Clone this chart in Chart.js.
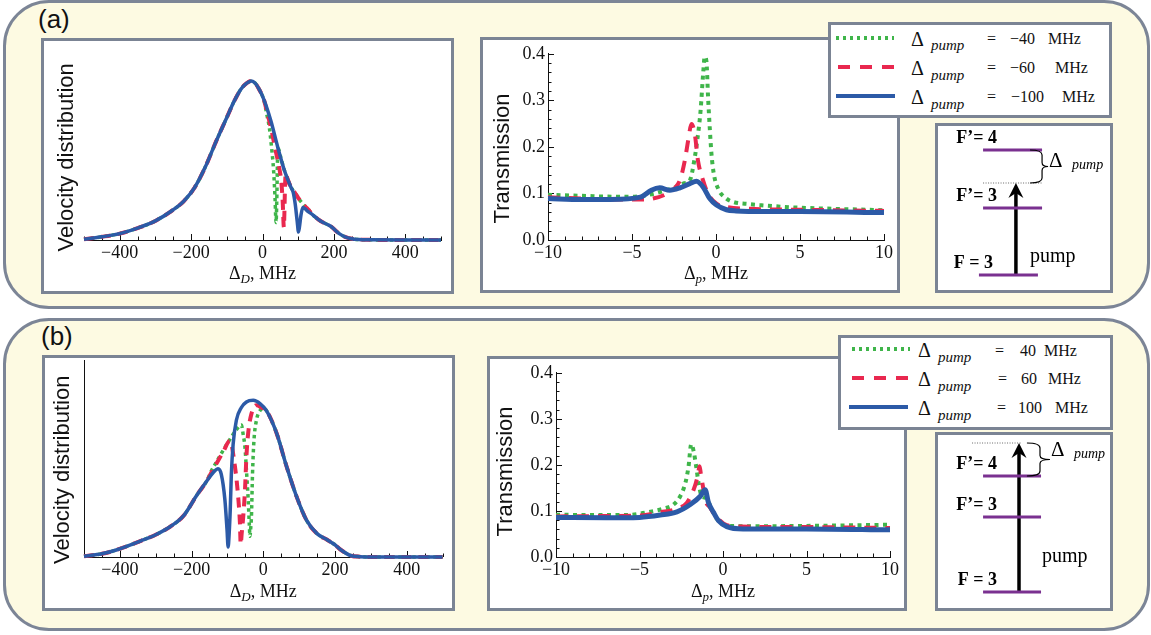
<!DOCTYPE html>
<html>
<head>
<meta charset="utf-8">
<title>Velocity distribution and transmission</title>
<script src="https://cdn.jsdelivr.net/npm/chart.js@4.4.1/dist/chart.umd.min.js"></script>
<style>
  body { margin: 0; background: #fff; }
  #fig { position: relative; width: 1151px; height: 635px; overflow: hidden; }
  .panel { position: absolute; box-sizing: border-box; border: 3px solid #7c8596; border-radius: 46px; background: #fdfae2; }
  .box { position: absolute; box-sizing: border-box; border: 3px solid #7b8494; background: #fff; }
  .box canvas { position: absolute; left: 0; top: 0; }
  .tag { position: absolute; font: 26px/26px "Liberation Sans", Arial, sans-serif; color: #111; }
  .legend span { position: absolute; white-space: pre; font-family: "Liberation Serif", serif; color: #111; }
  .legend .sample { position: absolute; height: 4px; }
</style>
</head>
<body>
<div id="fig">
  <div class="panel" style="left:3px;top:0;width:1147px;height:309px"></div>
  <div class="panel" style="left:3px;top:318px;width:1147px;height:313px"></div>
  <div class="tag" style="left:38px;top:6px">(a)</div>
  <div class="tag" style="left:41px;top:323px">(b)</div>

  <div class="box" style="left:41px;top:38px;width:413px;height:256px"><canvas id="velA" width="407" height="250"></canvas></div>
  <div class="box" style="left:480px;top:37px;width:420px;height:256px"><canvas id="trA" width="414" height="250"></canvas></div>
  <div class="box" style="left:935px;top:123px;width:178px;height:170px"><canvas id="lvA" width="172" height="164"></canvas></div>
  <div class="box legend" id="legA" style="left:828px;top:22px;width:284px;height:96px"></div>

  <div class="box" style="left:42px;top:355px;width:413px;height:256px"><canvas id="velB" width="407" height="250"></canvas></div>
  <div class="box" style="left:487px;top:356px;width:420px;height:255px"><canvas id="trB" width="414" height="249"></canvas></div>
  <div class="box" style="left:935px;top:432px;width:178px;height:179px"><canvas id="lvB" width="172" height="173"></canvas></div>
  <div class="box legend" id="legB" style="left:838px;top:335px;width:275px;height:95px"></div>
</div>

<script>
// ---- tick labels ----
const velTicks = [-400, -200, 0, 200, 400];
const trXTicks = [-10, -5, 0, 5, 10];
const trYTicks = [0, 0.1, 0.2, 0.3, 0.4];

// ---- legend values (pump detuning, MHz) ----
const pumpDetuningA = [-40, -60, -100];
const pumpDetuningB = [40, 60, 100];

// ---- (a) velocity distribution, Doppler detuning in MHz ----
const velAWingX = [-500, -450, -400, -350, -300, -250, -220, -190, -160, -130, -100, -80, -60, -45, -31, -20, -10, 0];
const velAWing  = [0.005, 0.02, 0.04, 0.075, 0.12, 0.19, 0.245, 0.33, 0.46, 0.62, 0.77, 0.87, 0.95, 0.985, 1.0, 0.985, 0.95, 0.905];
const velATailX = [140, 156, 170, 184, 195, 203, 215, 231, 250, 270, 300, 400, 500];
const velATail  = [0.16, 0.13, 0.11, 0.095, 0.08, 0.063, 0.04, 0.02, 0.008, 0.003, 0.001, 0, 0];
const velAGreenX = [5, 12, 19, 25, 31, 35, 38, 40, 42, 44, 50, 61, 70, 80, 90, 100, 110, 120, 127];
const velAGreen  = [0.87, 0.79, 0.71, 0.59, 0.44, 0.27, 0.11, 0.25, 0.50, 0.575, 0.53, 0.44, 0.385, 0.33, 0.30, 0.265, 0.235, 0.21, 0.195];
const velARedX = [5, 14, 20, 28, 35, 42, 48, 52, 55, 57, 59, 60, 61, 63, 65, 70, 80, 90, 100, 110, 120, 127];
const velARed  = [0.875, 0.79, 0.74, 0.66, 0.58, 0.51, 0.44, 0.38, 0.30, 0.22, 0.10, 0.08, 0.14, 0.33, 0.42, 0.385, 0.33, 0.30, 0.265, 0.235, 0.21, 0.195];
const velABlueX = [10, 24, 42, 61, 80, 86, 92, 97, 101, 104, 108, 113, 120, 127];
const velABlue  = [0.845, 0.745, 0.59, 0.44, 0.33, 0.30, 0.22, 0.12, 0.05, 0.09, 0.16, 0.205, 0.195, 0.18];

// ---- (b) velocity distribution ----
const velBWingX = [-500, -450, -410, -335, -300, -260, -222, -185, -157];
const velBWing  = [0.005, 0.02, 0.044, 0.107, 0.14, 0.19, 0.26, 0.39, 0.48];
const velBTailX = [9, 37, 65, 93, 121, 150, 179, 198, 217, 245, 270, 300, 400, 500];
const velBTail  = [0.92, 0.78, 0.57, 0.38, 0.23, 0.147, 0.107, 0.08, 0.044, 0.008, 0.002, 0, 0, 0];
const velBGreenX = [-145, -130, -112, -93, -75, -61, -56, -51, -47, -42, -39, -37, -35, -33, -30, -26, -19, -9, 0];
const velBGreen  = [0.54, 0.60, 0.67, 0.74, 0.80, 0.83, 0.77, 0.69, 0.55, 0.36, 0.21, 0.13, 0.18, 0.25, 0.52, 0.73, 0.86, 0.92, 0.935];
const velBRedX = [-145, -130, -112, -93, -79, -70, -65, -63, -60, -56, -51, -47, -42, -33, -19, -5];
const velBRed  = [0.53, 0.59, 0.66, 0.73, 0.57, 0.38, 0.21, 0.08, 0.15, 0.25, 0.42, 0.63, 0.78, 0.90, 0.955, 0.94];
const velBBlueX = [-140, -126, -117, -107, -101, -98, -95, -92, -89, -84, -75, -61, -47, -28, -9];
const velBBlue  = [0.53, 0.555, 0.52, 0.36, 0.17, 0.063, 0.15, 0.30, 0.52, 0.71, 0.86, 0.94, 0.975, 0.985, 0.965];

// ---- (a) transmission vs probe detuning, MHz ----
const trAGreenX = [-10, -8, -6, -5, -4, -3.35, -2.35, -1.9, -1.56, -1.26, -1.12, -0.92, -0.77, -0.67, -0.57, -0.47, -0.37, -0.27, -0.13, 0.13, 0.62, 1, 2, 2.6, 4.6, 7, 10];
const trAGreen  = [0.097, 0.095, 0.093, 0.093, 0.097, 0.103, 0.114, 0.122, 0.128, 0.178, 0.213, 0.277, 0.355, 0.394, 0.384, 0.305, 0.24, 0.185, 0.142, 0.11, 0.089, 0.082, 0.077, 0.075, 0.07, 0.067, 0.064];
const trARedX = [-10, -8, -6, -4.5, -3.75, -2.95, -2.5, -2.15, -1.86, -1.66, -1.46, -1.26, -1.07, -0.77, -0.47, 0.03, 0.62, 2, 5, 10];
const trARed  = [0.092, 0.089, 0.087, 0.087, 0.089, 0.099, 0.11, 0.128, 0.17, 0.213, 0.249, 0.227, 0.17, 0.128, 0.099, 0.078, 0.071, 0.067, 0.065, 0.0625];
const trABlueX = [-10, -8, -6.3, -4.5, -3.85, -3.35, -2.75, -2.15, -1.56, -1.16, -0.77, -0.37, 0.03, 0.62, 1.2, 3, 5, 10];
const trABlue  = [0.089, 0.087, 0.087, 0.092, 0.107, 0.112, 0.107, 0.112, 0.121, 0.126, 0.114, 0.089, 0.075, 0.065, 0.0625, 0.061, 0.061, 0.059];

// ---- (b) transmission ----
const trBGreenX = [-10, -8, -5.75, -4.56, -3.56, -2.96, -2.56, -2.26, -2.07, -1.9, -1.76, -1.6, -1.46, -1.27, -1.0, -0.7, -0.37, 0.23, 1, 3, 6, 10];
const trBGreen  = [0.092, 0.091, 0.091, 0.097, 0.105, 0.114, 0.132, 0.16, 0.195, 0.245, 0.23, 0.195, 0.16, 0.132, 0.128, 0.105, 0.083, 0.068, 0.067, 0.067, 0.068, 0.07];
const trBRedX = [-10, -7, -5, -3.76, -2.76, -2.16, -1.76, -1.53, -1.4, -1.33, -1.2, -1.07, -0.77, -0.37, 0.23, 1, 5, 10];
const trBRed  = [0.088, 0.089, 0.09, 0.097, 0.105, 0.118, 0.146, 0.174, 0.197, 0.181, 0.153, 0.125, 0.107, 0.086, 0.069, 0.066, 0.065, 0.063];
const trBBlueX = [-10, -7, -5, -3.76, -2.76, -1.96, -1.36, -1.07, -0.87, -0.57, -0.27, 0.23, 1.2, 3, 5, 10];
const trBBlue  = [0.086, 0.085, 0.086, 0.091, 0.098, 0.114, 0.132, 0.146, 0.118, 0.097, 0.079, 0.066, 0.061, 0.061, 0.061, 0.059];

// ---- level schemes (arbitrary energy units, F = 3 at 0) ----
const levelNames = ['F = 3', 'F\u2019= 3', 'F\u2019= 4'];
const levelEnergyA = [0, 67, 125];
const pumpTopA = 92;
const levelEnergyB = [0, 75, 116];
const pumpTopB = 149;

const GREEN = '#3fb54a', RED = '#e9284f', BLUE = '#2c5aa7', PURPLE = '#7a3190';
const SERIF = '"Liberation Serif", "Times New Roman", serif';
const SANS = '"Liberation Sans", Arial, sans-serif';
const minus = v => String(v).replace('-', '\u2212');

// inward tick marks + axis titles
const axisDecor = {
  id: 'axisDecor',
  beforeDatasetsDraw(chart, args, o) {
    const { ctx, chartArea: a, scales: { x, y } } = chart;
    ctx.save();
    ctx.strokeStyle = '#111';
    ctx.lineWidth = 1;
    const marks = (scale, minor, majors, horiz) => {
      const n = Math.round((scale.max - scale.min) / minor);
      for (let i = 0; i <= n; i++) {
        const v = scale.min + i * minor;
        const big = majors.some(m => Math.abs(m - v) < minor / 10);
        const len = big ? 6 : 3.5;
        const p = Math.round(scale.getPixelForValue(v)) + 0.5;
        ctx.beginPath();
        if (horiz) { ctx.moveTo(p, a.bottom); ctx.lineTo(p, a.bottom - len); }
        else { ctx.moveTo(a.left, p); ctx.lineTo(a.left + len, p); }
        ctx.stroke();
      }
    };
    if (o.xMinor) marks(x, o.xMinor, o.xMajor, true);
    if (o.yMinor) marks(y, o.yMinor, o.yMajor, false);

    ctx.fillStyle = '#111';
    // y title, rotated
    ctx.save();
    ctx.font = '22px ' + SANS;
    ctx.textAlign = 'center';
    ctx.textBaseline = 'middle';
    ctx.translate(a.left + o.yTitle.dx, (a.top + a.bottom) / 2 + o.yTitle.dy);
    ctx.rotate(-Math.PI / 2);
    ctx.fillText(o.yTitle.text, 0, 0);
    ctx.restore();
    // x title with italic subscript
    const parts = [
      { t: '\u0394', f: '18px ' + SERIF, dy: 0 },
      { t: o.xSub, f: 'italic 13px ' + SERIF, dy: 4 },
      { t: ', MHz', f: '18px ' + SERIF, dy: 0 }
    ];
    let w = 0;
    parts.forEach(p => { ctx.font = p.f; p.w = ctx.measureText(p.t).width; w += p.w; });
    let cx = (a.left + a.right) / 2 - w / 2;
    ctx.textAlign = 'left';
    ctx.textBaseline = 'alphabetic';
    parts.forEach(p => { ctx.font = p.f; ctx.fillText(p.t, cx, a.bottom + o.xTitleDy + p.dy); cx += p.w; });
    ctx.restore();
  }
};

function pts(xs, ys) { return xs.map((x, i) => ({ x, y: ys[i] })); }

function curveChart(id, series, opt) {
  const datasets = series.map(s => ({
    data: pts(s.x, s.y),
    borderColor: s.color,
    borderWidth: s.width,
    borderDash: s.dash || [],
    borderCapStyle: 'butt',
    pointRadius: 0,
    cubicInterpolationMode: 'monotone',
    fill: false,
    clip: false,
    order: s.order
  }));
  return new Chart(document.getElementById(id), {
    type: 'line',
    data: { datasets },
    plugins: [axisDecor],
    options: {
      responsive: false,
      animation: false,
      events: [],
      layout: { padding: { left: 0, top: opt.pad[0], right: opt.pad[1], bottom: 0 } },
      plugins: { legend: { display: false }, tooltip: { enabled: false }, axisDecor: opt.decor },
      scales: {
        x: {
          type: 'linear', min: opt.xRange[0], max: opt.xRange[1],
          afterFit: s => { s.height = opt.xBand; },
          afterBuildTicks: s => { s.ticks = opt.xTicks.map(value => ({ value })); },
          grid: { display: false, drawTicks: false },
          border: { display: true, color: '#111', width: 1 },
          ticks: { color: '#111', font: { family: SERIF, size: 18 }, padding: 2, maxRotation: 0, autoSkip: false, callback: v => minus(v) }
        },
        y: {
          type: 'linear', min: opt.yRange[0], max: opt.yRange[1],
          afterFit: s => { s.width = opt.yBand; },
          afterBuildTicks: s => { if (opt.yTicks) s.ticks = opt.yTicks.map(value => ({ value })); },
          grid: { display: false, drawTicks: false },
          border: { display: opt.yBorder, color: '#111', width: 1 },
          ticks: { display: !!opt.yTicks, color: '#111', font: { family: SERIF, size: 18 }, padding: 3, autoSkip: false, callback: v => v.toFixed(1) }
        }
      }
    }
  });
}

function velSeries(wingX, wing, tailX, tail, gx, g, rx, r, bx, b) {
  return [
    { x: wingX.concat(gx, tailX), y: wing.concat(g, tail), color: GREEN, width: 3.5, dash: [3.5, 3.5], order: 2 },
    { x: wingX.concat(rx, tailX), y: wing.concat(r, tail), color: RED, width: 4, dash: [10, 7], order: 1 },
    { x: wingX.concat(bx, tailX), y: wing.concat(b, tail), color: BLUE, width: 3.5, order: 0 }
  ];
}
function trSeries(gx, g, rx, r, bx, b) {
  return [
    { x: gx, y: g, color: GREEN, width: 4, dash: [4, 4.5], order: 2 },
    { x: rx, y: r, color: RED, width: 4, dash: [12, 9], order: 1 },
    { x: bx, y: b, color: BLUE, width: 5, order: 0 }
  ];
}

const velDecor = (dx, dy, tdy) => ({ xMinor: 50, xMajor: velTicks, yTitle: { text: 'Velocity distribution', dx, dy }, xSub: 'D', xTitleDy: tdy });
const trDecor = (dx, dy, tdy) => ({ xMinor: 1, xMajor: trXTicks, yMinor: 0.02, yMajor: trYTicks, yTitle: { text: 'Transmission', dx, dy }, xSub: 'p', xTitleDy: tdy });

curveChart('velA', velSeries(velAWingX, velAWing, velATailX, velATail, velAGreenX, velAGreen, velARedX, velARed, velABlueX, velABlue), {
  xRange: [-500, 500], yRange: [0, 1.235], xTicks: velTicks, yBorder: false,
  pad: [2.6, 10], xBand: 51, yBand: 40, decor: velDecor(-17, 15.6, 39)
});
curveChart('velB', velSeries(velBWingX, velBWing, velBTailX, velBTail, velBGreenX, velBGreen, velBRedX, velBRed, velBBlueX, velBBlue), {
  xRange: [-500, 500], yRange: [0, 1.235], xTicks: velTicks, yBorder: true,
  pad: [2.6, 9.5], xBand: 51, yBand: 39, decor: velDecor(-21, 11, 40)
});
curveChart('trA', trSeries(trAGreenX, trAGreen, trARedX, trARed, trABlueX, trABlue), {
  xRange: [-10, 10], yRange: [0, 0.4], xTicks: trXTicks, yTicks: trYTicks, yBorder: true,
  pad: [12, 13], xBand: 50, yBand: 65, decor: trDecor(-45.5, 11.5, 39)
});
curveChart('trB', trSeries(trBGreenX, trBGreen, trBRedX, trBRed, trBBlueX, trBBlue), {
  xRange: [-10, 10], yRange: [0, 0.4], xTicks: trXTicks, yTicks: trYTicks, yBorder: true,
  pad: [9, 14], xBand: 51, yBand: 66, decor: trDecor(-50, 6.5, 40)
});

// ---- energy level schemes ----
const levelDecor = {
  id: 'levelDecor',
  afterDatasetsDraw(chart, args, o) {
    const { ctx, scales: { x, y } } = chart;
    ctx.save();
    ctx.fillStyle = '#000';
    ctx.strokeStyle = '#000';
    ctx.textBaseline = 'alphabetic';
    ctx.font = 'bold 18px ' + SERIF;
    ctx.textAlign = 'right';
    levelNames.forEach((n, i) => {
      ctx.fillText(n, x.getPixelForValue(o.levelX[i][0]) + 14, y.getPixelForValue(o.energies[i]) - 7);
    });
    // arrow head
    const ax = x.getPixelForValue(o.arrowX), ay = y.getPixelForValue(o.pumpTop);
    ctx.beginPath();
    ctx.moveTo(ax, ay);
    ctx.lineTo(ax + 7.5, ay + 15);
    ctx.lineTo(ax, ay + 10);
    ctx.lineTo(ax - 7.5, ay + 15);
    ctx.closePath();
    ctx.fill();
    // brace between F'=4 and the pump frequency
    const y1 = Math.min(ay, y.getPixelForValue(o.energies[2]));
    const y2 = Math.max(ay, y.getPixelForValue(o.energies[2]));
    const ym = (y1 + y2) / 2;
    const x0 = x.getPixelForValue(o.brace[0]), x1 = x.getPixelForValue(o.brace[1]), xt = x.getPixelForValue(o.brace[2]);
    ctx.lineWidth = 1.2;
    ctx.beginPath();
    ctx.moveTo(x0, y1);
    ctx.quadraticCurveTo(x1, y1, x1, y1 + 5);
    ctx.lineTo(x1, ym - 4);
    ctx.quadraticCurveTo(x1, ym, xt, ym);
    ctx.quadraticCurveTo(x1, ym, x1, ym + 4);
    ctx.lineTo(x1, y2 - 5);
    ctx.quadraticCurveTo(x1, y2, x0, y2);
    ctx.stroke();
    ctx.textAlign = 'left';
    ctx.font = '21px ' + SERIF;
    ctx.fillText('\u0394', xt + 1, ym + o.deltaDy);
    ctx.font = 'italic 14px ' + SERIF;
    ctx.fillText('pump', xt + 24, ym + o.deltaDy + 2);
    ctx.font = '20px ' + SERIF;
    ctx.fillText('pump', ax + o.pumpLabel[0], y.getPixelForValue(o.energies[0]) + o.pumpLabel[1]);
    ctx.restore();
  }
};

function levelChart(id, energies, pumpTop, lv) {
  const seg = (x0, x1, y0, y1, color, width, dash) => ({
    data: [{ x: x0, y: y0 }, { x: x1, y: y1 }],
    borderColor: color, borderWidth: width, borderDash: dash || [], pointRadius: 0, tension: 0, borderCapStyle: 'butt'
  });
  const datasets = energies.map((e, i) => seg(lv.levelX[i][0], lv.levelX[i][1], e, e, PURPLE, 3));
  datasets.push(seg(lv.dotX[0], lv.dotX[1], pumpTop, pumpTop, '#444', 0.8, [1, 1.5]));
  datasets.push(seg(lv.arrowX, lv.arrowX, energies[0], pumpTop - 9, '#000', 3.5));
  return new Chart(document.getElementById(id), {
    type: 'line',
    data: { datasets },
    plugins: [levelDecor],
    options: {
      responsive: false, animation: false, events: [],
      layout: { padding: 0 },
      plugins: { legend: { display: false }, tooltip: { enabled: false },
        levelDecor: Object.assign({ energies, pumpTop }, lv) },
      scales: {
        x: { type: 'linear', min: 0, max: 100, display: false },
        y: { type: 'linear', min: lv.yRange[0], max: lv.yRange[1], display: false }
      }
    }
  });
}

levelChart('lvA', levelEnergyA, pumpTopA, {
  yRange: [-15, 149],
  levelX: [[23.8, 58.1], [26.2, 60.5], [26.2, 60.5]],
  dotX: [26.2, 60.5], arrowX: 45.3, brace: [53.5, 60.5, 64.0],
  deltaDy: 0.5, pumpLabel: [14, -13]
});
levelChart('lvB', levelEnergyB, pumpTopB, {
  yRange: [-16, 157],
  levelX: [[26.2, 59.9], [26.2, 59.9], [26.2, 59.9]],
  dotX: [19.8, 48.8], arrowX: 47.1, brace: [51.7, 59.3, 65.1],
  deltaDy: -4, pumpLabel: [23, -30]
});

// ---- legends ----
const samplePatterns = [
  `repeating-linear-gradient(90deg, ${GREEN} 0 3.5px, transparent 3.5px 7px)`,
  `repeating-linear-gradient(90deg, ${RED} 0 12px, transparent 12px 22px)`,
  BLUE
];
function buildLegend(id, values, L) {
  const box = document.getElementById(id);
  values.forEach((v, i) => {
    const y = L.rowY[i];
    const s = document.createElement('div');
    s.className = 'sample';
    s.style.left = L.sample[i][0] + 'px';
    s.style.width = (L.sample[i][1] - L.sample[i][0]) + 'px';
    s.style.top = (y - 2) + 'px';
    s.style.background = samplePatterns[i];
    box.appendChild(s);
    const add = (text, x, base, size, italic) => {
      const t = document.createElement('span');
      t.textContent = text;
      t.style.left = x + 'px';
      t.style.top = (base - 0.8375 * size) + 'px';
      t.style.fontSize = size + 'px';
      t.style.lineHeight = size + 'px';
      if (italic) t.style.fontStyle = 'italic';
      box.appendChild(t);
    };
    add('\u0394', L.deltaX, y + 8, 20);
    add('pump', L.pumpX, y + 13.5, 15, true);
    add('=', L.eqX[i], y + 7, 16);
    add(minus(v), L.numX[i], y + 7, 16);
    add('MHz', L.unitX[i], y + 7, 16);
  });
}
buildLegend('legA', pumpDetuningA, {
  rowY: [12.5, 41.7, 70.7], sample: [[5, 63], [7, 67], [5, 64]],
  deltaX: 80, pumpX: 100, eqX: [156, 156, 156], numX: [179, 179, 180], unitX: [217, 224, 231]
});
buildLegend('legB', pumpDetuningB, {
  rowY: [11, 39.7, 68.7], sample: [[11, 69], [11, 71], [8, 67]],
  deltaX: 77, pumpX: 97, eqX: [154, 157, 156], numX: [179, 180, 177], unitX: [203, 207, 214]
});
</script>
</body>
</html>
